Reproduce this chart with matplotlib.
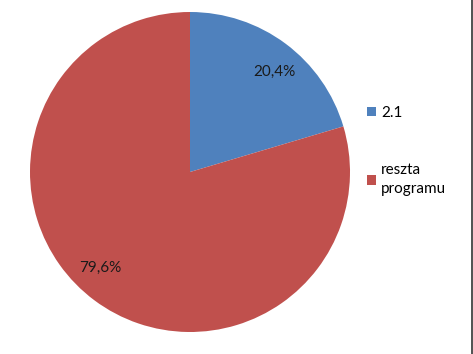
import matplotlib
matplotlib.use('Agg')
import matplotlib.pyplot as plt
from matplotlib.lines import Line2D

plt.rcParams['font.family'] = ['Lato', 'DejaVu Sans']

labels = ['2.1', 'reszta\nprogramu']
values = [20.4, 79.6]
colors = ['#4F81BD', '#C0504D']
label_pos = [(0.53, 0.625), (-0.5625, -0.6)]

fig = plt.figure(figsize=(4.73, 3.54), dpi=100)
ax = fig.add_axes([30/473, 22/354, 320/473, 320/354])

wedges, texts, autotexts = ax.pie(values, colors=colors, startangle=90, counterclock=False,
                                  autopct=lambda p: ('%.1f%%' % p).replace('.', ','),
                                  pctdistance=0.8, textprops={'fontsize': 11, 'color': '#1a1a1a'})
for t, pos in zip(autotexts, label_pos):
    t.set_position(pos)
ax.set_xlim(-1, 1)
ax.set_ylim(-1, 1)
ax.set_aspect('equal')

# legend
leg = fig.legend(wedges, labels, loc='upper left', bbox_to_anchor=(353/473, 1 - 92/354),
                 frameon=False, fontsize=11, handlelength=0.6, handleheight=0.6,
                 handletextpad=0.35, labelspacing=2.85)
for t in leg.get_texts():
    t.set_linespacing(1.45)

# right border line
fig.add_artist(Line2D([471.5/473, 471.5/473], [0, 1], color='#333333', lw=1.2, transform=fig.transFigure))

fig.savefig('out.png', dpi=100)
